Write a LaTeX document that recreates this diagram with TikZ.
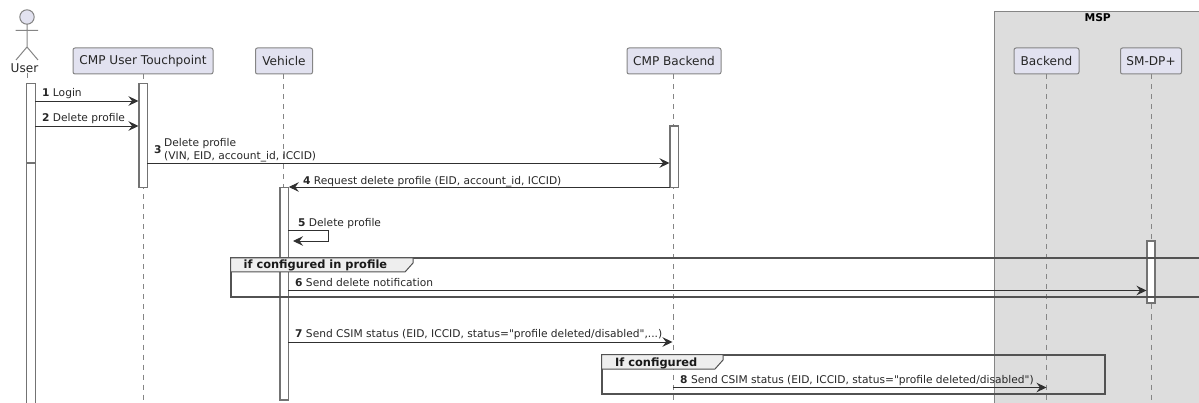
\documentclass[tikz,border=0pt]{standalone}
\usepackage{fontspec}
\newfontfamily\dejavu{DejaVu Sans}
\usetikzlibrary{arrows.meta, positioning}
\definecolor{partfill}{HTML}{E2E2F0}
\definecolor{partline}{HTML}{858585}
\definecolor{mspfill}{HTML}{DDDDDD}
\definecolor{msgline}{HTML}{303030}
\definecolor{tabfill}{HTML}{EEEEEE}
\tikzset{
  part/.style={draw=partline, line width=1, fill=partfill, rounded corners=2, minimum height=26, inner sep=0, font=\dejavu\fontsize{12.1}{14}\selectfont, text=black!85},
  life/.style={draw=partline, dash pattern=on 5 off 5, line width=.8},
  bar/.style={draw=black!55, fill=white, line width=1.1},
  msg/.style={draw=msgline, line width=.9, -{Stealth[length=10, width=9.5, inset=3.5]}},
  lbl/.style={anchor=base west, inner sep=0, font=\dejavu\fontsize{10.65}{13}\selectfont, text=black!85},
  box/.style={draw=black!68, line width=2},
  tab/.style={draw=black!68, fill=tabfill, line width=1},
  tabtxt/.style={anchor=base west, inner sep=0, font=\dejavu\fontsize{11.4}{13}\selectfont\bfseries, text=black!90}
}
\begin{document}
\begin{tikzpicture}[x=1pt, y=-1pt]
\clip (0,0) rectangle (1199,403);
% msp group
\draw[draw=partline, line width=1, fill=mspfill] (994,11.5) rectangle (1210,410);
\node[inner sep=0, font=\dejavu\fontsize{10.75}{13}\selectfont\bfseries] (msp) at (1097.7,18) {MSP};
% participants
\node[part, minimum width=140] (touch) at (143,61) {CMP User Touchpoint};
\node[part, minimum width=57] (vehicle) at (284,61) {Vehicle};
\node[part, minimum width=94] (cmp) at (674,61) {CMP Backend};
\node[part, minimum width=65] (backend) at (1046.5,61) {Backend};
\node[part, minimum width=61] (smdp) at (1151,61) {SM-DP+};
% user
\draw[draw=partline, line width=1, fill=partfill] (27,17) circle (7.2);
\draw[draw=partline, line width=1] (27,24) -- (27,47) (15.5,30.5) -- (38,30.5) (16,60) -- (27,47) -- (38,60);
\node[inner sep=0, font=\dejavu\fontsize{12.1}{14}\selectfont, text=black!85] (user) at (24.5,68) {User};
% lifelines
\coordinate (ue) at (27,403);
\coordinate (te) at (143.3,403);
\coordinate (ve) at (283.5,403);
\coordinate (ce) at (673.3,403);
\coordinate (be) at (1046.7,403);
\coordinate (se) at (1151.3,403);
\draw[life] (touch.south -| te) -- (te);
\draw[life] (vehicle.south -| ve) -- (ve);
\draw[life] (cmp.south -| ce) -- (ce);
\draw[life] (backend.south -| be) -- (be);
\draw[life] (smdp.south -| se) -- (se);
\draw[life] (user.south -| ue) -- (ue);
% activations
\draw[bar] (26.8,83.5) rectangle (35.2,163);
\draw[bar] (26.8,163) rectangle (35.2,410);
\draw[bar] (139,83.5) rectangle (147.3,187.5);
\draw[bar] (280,187.5) rectangle (288.3,400);
\draw[bar] (670,126) rectangle (678.4,187.5);
\draw[bar] (1147,241) rectangle (1155,303);
% frames
\draw[box] (230.5,258) rectangle (1210,297);
\draw[tab] (230.5,258) -- (413,258) -- (413,263) -- (405,272) -- (230.5,272) -- cycle;
\node[tabtxt] (frameone) at (243.5,269) {if configured in profile};
\draw[box] (601.5,354.5) rectangle (1104.5,393.5);
\draw[tab] (601.5,354.5) -- (723,354.5) -- (723,360) -- (715,369) -- (601.5,369) -- cycle;
\node[tabtxt] (frametwo) at (615,366) {If configured};
% messages
\coordinate (m1a) at (35.2,101);
\coordinate (m1b) at (138.5,101);
\draw[msg] (m1a) -- (m1b);
\node[lbl] (l1) at (42,96.7) {\textbf{1} Login};
\coordinate (m2a) at (35.2,126);
\coordinate (m2b) at (138.5,126);
\draw[msg] (m2a) -- (m2b);
\node[lbl] (l2) at (42,121.7) {\textbf{2} Delete profile};
\coordinate (m3a) at (147.3,163);
\coordinate (m3b) at (669.5,163);
\draw[msg] (m3a) -- (m3b);
\node[lbl] (l3) at (154,153.5) {\textbf{3}};
\node[lbl, align=left, anchor=west] (l3t) at (164,150) {Delete profile\\(VIN, EID, account\_id, ICCID)};
\coordinate (m4a) at (670,187);
\coordinate (m4b) at (288.8,187);
\draw[msg] (m4a) -- (m4b);
\node[lbl] (l4) at (303,184.5) {\textbf{4} Request delete profile (EID, account\_id, ICCID)};
\coordinate (m5a) at (288.3,230);
\coordinate (m5b) at (328.5,230);
\coordinate (m5c) at (328.5,241);
\coordinate (m5d) at (293,241);
\draw[msg] (m5a) -- (m5b) -- (m5c) -- (m5d);
\node[lbl] (l5) at (298,226.5) {\textbf{5} Delete profile};
\coordinate (m6a) at (288.3,290.5);
\coordinate (m6b) at (1146.5,290.5);
\draw[msg] (m6a) -- (m6b);
\node[lbl] (l6) at (295,286.5) {\textbf{6} Send delete notification};
\coordinate (m7a) at (288.3,342);
\coordinate (m7b) at (672.5,342);
\draw[msg] (m7a) -- (m7b);
\node[lbl] (l7) at (295,337.5) {\textbf{7} Send CSIM status (EID, ICCID, status="profile deleted/disabled",...)};
\coordinate (m8a) at (673.3,387.5);
\coordinate (m8b) at (1046.5,387.5);
\draw[msg] (m8a) -- (m8b);
\node[lbl] (l8) at (680,383.5) {\textbf{8} Send CSIM status (EID, ICCID, status="profile deleted/disabled")};
\end{tikzpicture}
\end{document}
